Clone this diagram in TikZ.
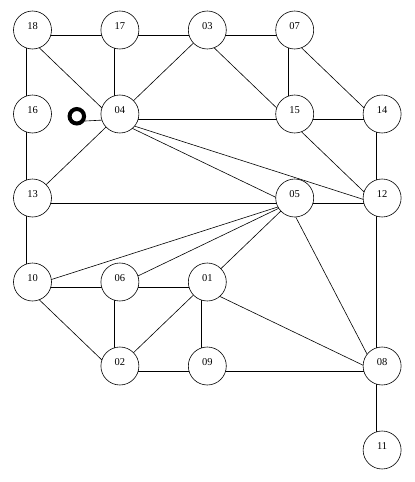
\documentclass[tikz,border=0pt]{standalone}
\usepackage{fontspec}
\setmainfont{Liberation Serif}
\usetikzlibrary{backgrounds}
\tikzstyle{vertex} = [circle, draw, fill=white, minimum size=38pt, inner sep=0pt, line width=0.6pt, font=\fontsize{10.5}{10.5}\selectfont, text height=7pt, text depth=8pt]
\tikzstyle{cursor} = [circle, draw, fill=white, minimum size=14.5pt, inner sep=0pt, line width=4pt]
\tikzstyle{link} = [line width=0.6pt]
\newcommand{\joinv}[2]{\draw[link] ([xshift=-6pt,yshift=-5.5pt]#1.center) -- ([xshift=-6pt,yshift=-5.5pt]#2.center);}

\begin{document}
\begin{tikzpicture}[x=87.4pt, y=84pt]
    \useasboundingbox (-32.5pt, 30pt) rectangle (382.5pt, -452pt);

    % Vertices, row by row
    \node[vertex] (n18) at (0, 0) {18};
    \node[vertex] (n17) at (1, 0) {17};
    \node[vertex] (n03) at (2, 0) {03};
    \node[vertex] (n07) at (3, 0) {07};

    \node[vertex] (n16) at (0, -1) {16};
    \node[vertex] (n04) at (1, -1) {04};
    \node[vertex] (n15) at (3, -1) {15};
    \node[vertex] (n14) at (4, -1) {14};
    \node[cursor] (cur) at (0.507, -1.027) {};

    \node[vertex] (n13) at (0, -2) {13};
    \node[vertex] (n05) at (3, -2) {05};
    \node[vertex] (n12) at (4, -2) {12};

    \node[vertex] (n10) at (0, -3) {10};
    \node[vertex] (n06) at (1, -3) {06};
    \node[vertex] (n01) at (2, -3) {01};

    \node[vertex] (n02) at (1, -4) {02};
    \node[vertex] (n09) at (2, -4) {09};
    \node[vertex] (n08) at (4, -4) {08};

    \node[vertex] (n11) at (4, -5) {11};

    % Edges (behind the circles)
    \begin{scope}[on background layer]
        \joinv{n18}{n17} \joinv{n17}{n03} \joinv{n03}{n07}
        \joinv{n18}{n16} \joinv{n18}{n04} \joinv{n17}{n04}
        \joinv{n03}{n04} \joinv{n03}{n15} \joinv{n07}{n15} \joinv{n07}{n14}
        \joinv{n16}{n13} \joinv{cur}{n04}
        \joinv{n04}{n15} \joinv{n04}{n13} \joinv{n04}{n05} \joinv{n04}{n12}
        \joinv{n15}{n14} \joinv{n15}{n12} \joinv{n14}{n12}
        \joinv{n13}{n05} \joinv{n13}{n10} \joinv{n05}{n12}
        \joinv{n05}{n10} \joinv{n05}{n06} \joinv{n05}{n01} \joinv{n05}{n08}
        \joinv{n12}{n08}
        \joinv{n10}{n06} \joinv{n10}{n02} \joinv{n06}{n01} \joinv{n06}{n02}
        \joinv{n01}{n02} \joinv{n01}{n09} \joinv{n01}{n08}
        \joinv{n02}{n09} \joinv{n09}{n08} \joinv{n08}{n11}
    \end{scope}
\end{tikzpicture}
\end{document}
